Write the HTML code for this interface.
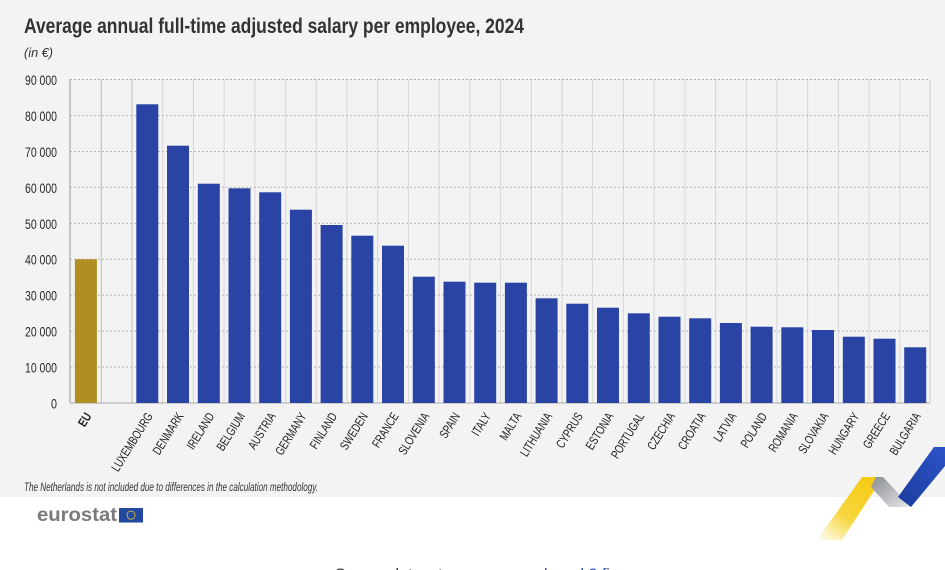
<!DOCTYPE html>
<html><head><meta charset="utf-8"><style>
html,body{margin:0;padding:0;background:#fff;}
svg{display:block;}
text{font-family:"Liberation Sans",sans-serif;}
</style></head><body>
<svg width="945" height="570" viewBox="0 0 945 570" xmlns="http://www.w3.org/2000/svg">
<defs>
<linearGradient id="gold" x1="0" y1="1" x2="0.7" y2="0">
<stop offset="0" stop-color="#f6d21a" stop-opacity="0"/>
<stop offset="0.45" stop-color="#f6cf1c" stop-opacity="0.85"/>
<stop offset="1" stop-color="#f7cc16"/>
</linearGradient>
<linearGradient id="grey" x1="0" y1="0" x2="1" y2="1">
<stop offset="0" stop-color="#8a8d93"/>
<stop offset="1" stop-color="#e6e7ea"/>
</linearGradient>
<linearGradient id="blue" x1="0" y1="1" x2="1" y2="0">
<stop offset="0" stop-color="#1b3a9c"/>
<stop offset="1" stop-color="#2c55c8"/>
</linearGradient>
</defs>
<rect x="0" y="0" width="945" height="497" fill="#f3f3f3"/>
<rect x="0" y="497" width="945" height="73" fill="#ffffff"/>

<text x="24" y="33" font-size="21" font-weight="bold" fill="#333" textLength="500" lengthAdjust="spacingAndGlyphs">Average annual full-time adjusted salary per employee, 2024</text>
<text x="24" y="57" font-size="12.5" font-style="italic" fill="#333" textLength="29" lengthAdjust="spacingAndGlyphs">(in €)</text>

<!-- vertical gridlines -->
<g stroke="#d6d6d6" stroke-width="1">
<line x1="101.3" y1="79.5" x2="101.3" y2="403" stroke="#bbb"/>
<line x1="132.0" y1="79.5" x2="132.0" y2="403" stroke="#bbb"/>
<line x1="162.7" y1="79.5" x2="162.7" y2="403"/>
<line x1="193.4" y1="79.5" x2="193.4" y2="403"/>
<line x1="224.1" y1="79.5" x2="224.1" y2="403"/>
<line x1="254.9" y1="79.5" x2="254.9" y2="403"/>
<line x1="285.6" y1="79.5" x2="285.6" y2="403"/>
<line x1="316.3" y1="79.5" x2="316.3" y2="403"/>
<line x1="347.0" y1="79.5" x2="347.0" y2="403"/>
<line x1="377.7" y1="79.5" x2="377.7" y2="403"/>
<line x1="408.4" y1="79.5" x2="408.4" y2="403"/>
<line x1="439.1" y1="79.5" x2="439.1" y2="403"/>
<line x1="469.9" y1="79.5" x2="469.9" y2="403"/>
<line x1="500.6" y1="79.5" x2="500.6" y2="403"/>
<line x1="531.3" y1="79.5" x2="531.3" y2="403"/>
<line x1="562.0" y1="79.5" x2="562.0" y2="403"/>
<line x1="592.7" y1="79.5" x2="592.7" y2="403"/>
<line x1="623.4" y1="79.5" x2="623.4" y2="403"/>
<line x1="654.1" y1="79.5" x2="654.1" y2="403"/>
<line x1="684.9" y1="79.5" x2="684.9" y2="403"/>
<line x1="715.6" y1="79.5" x2="715.6" y2="403"/>
<line x1="746.3" y1="79.5" x2="746.3" y2="403"/>
<line x1="777.0" y1="79.5" x2="777.0" y2="403"/>
<line x1="807.7" y1="79.5" x2="807.7" y2="403"/>
<line x1="838.4" y1="79.5" x2="838.4" y2="403"/>
<line x1="869.1" y1="79.5" x2="869.1" y2="403"/>
<line x1="899.9" y1="79.5" x2="899.9" y2="403"/>
<line x1="930" y1="79.5" x2="930" y2="403" stroke="#c8c8c8"/>
</g>
<!-- horizontal gridlines -->
<g stroke="#b0b0b0" stroke-width="0.9" stroke-dasharray="2,2">
<line x1="70" y1="79.5" x2="930" y2="79.5"/>
<line x1="70" y1="115.4" x2="930" y2="115.4"/>
<line x1="70" y1="151.4" x2="930" y2="151.4"/>
<line x1="70" y1="187.3" x2="930" y2="187.3"/>
<line x1="70" y1="223.3" x2="930" y2="223.3"/>
<line x1="70" y1="259.2" x2="930" y2="259.2"/>
<line x1="70" y1="295.2" x2="930" y2="295.2"/>
<line x1="70" y1="331.1" x2="930" y2="331.1"/>
<line x1="70" y1="367.1" x2="930" y2="367.1"/>
</g>
<line x1="70" y1="79.5" x2="70" y2="403" stroke="#9a9a9a" stroke-width="1"/>
<line x1="70" y1="403" x2="930" y2="403" stroke="#aaa" stroke-width="1"/>

<!-- y labels -->
<g font-size="13.5" fill="#2a2a2a" text-anchor="end">
<text x="57" y="85" textLength="32" lengthAdjust="spacingAndGlyphs">90 000</text>
<text x="57" y="120.9" textLength="32" lengthAdjust="spacingAndGlyphs">80 000</text>
<text x="57" y="156.9" textLength="32" lengthAdjust="spacingAndGlyphs">70 000</text>
<text x="57" y="192.8" textLength="32" lengthAdjust="spacingAndGlyphs">60 000</text>
<text x="57" y="228.8" textLength="32" lengthAdjust="spacingAndGlyphs">50 000</text>
<text x="57" y="264.7" textLength="32" lengthAdjust="spacingAndGlyphs">40 000</text>
<text x="57" y="300.7" textLength="32" lengthAdjust="spacingAndGlyphs">30 000</text>
<text x="57" y="336.6" textLength="32" lengthAdjust="spacingAndGlyphs">20 000</text>
<text x="57" y="372.6" textLength="32" lengthAdjust="spacingAndGlyphs">10 000</text>
<text x="57" y="408.5" textLength="6" lengthAdjust="spacingAndGlyphs">0</text>
</g>

<!-- bars -->
<rect x="74.9" y="259.2" width="22" height="143.8" fill="#b08e22"/>
<g fill="#2a44a6">
<rect x="136.3" y="104.3" width="22" height="298.7"/>
<rect x="167.0" y="145.7" width="22" height="257.3"/>
<rect x="197.8" y="183.7" width="22" height="219.3"/>
<rect x="228.5" y="188.3" width="22" height="214.7"/>
<rect x="259.2" y="192.3" width="22" height="210.7"/>
<rect x="289.9" y="209.7" width="22" height="193.3"/>
<rect x="320.6" y="225.0" width="22" height="178.0"/>
<rect x="351.3" y="235.7" width="22" height="167.3"/>
<rect x="382.0" y="245.7" width="22" height="157.3"/>
<rect x="412.8" y="276.7" width="22" height="126.3"/>
<rect x="443.5" y="281.7" width="22" height="121.3"/>
<rect x="474.2" y="282.7" width="22" height="120.3"/>
<rect x="504.9" y="282.7" width="22" height="120.3"/>
<rect x="535.6" y="298.3" width="22" height="104.7"/>
<rect x="566.3" y="303.7" width="22" height="99.3"/>
<rect x="597.0" y="307.7" width="22" height="95.3"/>
<rect x="627.8" y="313.3" width="22" height="89.7"/>
<rect x="658.5" y="316.7" width="22" height="86.3"/>
<rect x="689.2" y="318.3" width="22" height="84.7"/>
<rect x="719.9" y="323.0" width="22" height="80.0"/>
<rect x="750.6" y="326.7" width="22" height="76.3"/>
<rect x="781.3" y="327.3" width="22" height="75.7"/>
<rect x="812.0" y="330.0" width="22" height="73.0"/>
<rect x="842.8" y="336.7" width="22" height="66.3"/>
<rect x="873.5" y="338.7" width="22" height="64.3"/>
<rect x="904.2" y="347.3" width="22" height="55.7"/>
</g>

<!-- x labels -->
<g font-size="12.5" fill="#222" text-anchor="end">
<text transform="translate(92,416) rotate(-58) scale(0.8,1)" font-weight="bold">EU</text>
<text transform="translate(153.3,416) rotate(-58) scale(0.75,1)">LUXEMBOURG</text>
<text transform="translate(184.0,416) rotate(-58) scale(0.75,1)">DENMARK</text>
<text transform="translate(214.8,416) rotate(-58) scale(0.75,1)">IRELAND</text>
<text transform="translate(245.5,416) rotate(-58) scale(0.75,1)">BELGIUM</text>
<text transform="translate(276.2,416) rotate(-58) scale(0.75,1)">AUSTRIA</text>
<text transform="translate(306.9,416) rotate(-58) scale(0.75,1)">GERMANY</text>
<text transform="translate(337.6,416) rotate(-58) scale(0.75,1)">FINLAND</text>
<text transform="translate(368.3,416) rotate(-58) scale(0.75,1)">SWEDEN</text>
<text transform="translate(399.0,416) rotate(-58) scale(0.75,1)">FRANCE</text>
<text transform="translate(429.8,416) rotate(-58) scale(0.75,1)">SLOVENIA</text>
<text transform="translate(460.5,416) rotate(-58) scale(0.75,1)">SPAIN</text>
<text transform="translate(491.2,416) rotate(-58) scale(0.75,1)">ITALY</text>
<text transform="translate(521.9,416) rotate(-58) scale(0.75,1)">MALTA</text>
<text transform="translate(552.6,416) rotate(-58) scale(0.75,1)">LITHUANIA</text>
<text transform="translate(583.3,416) rotate(-58) scale(0.75,1)">CYPRUS</text>
<text transform="translate(614.0,416) rotate(-58) scale(0.75,1)">ESTONIA</text>
<text transform="translate(644.8,416) rotate(-58) scale(0.75,1)">PORTUGAL</text>
<text transform="translate(675.5,416) rotate(-58) scale(0.75,1)">CZECHIA</text>
<text transform="translate(706.2,416) rotate(-58) scale(0.75,1)">CROATIA</text>
<text transform="translate(736.9,416) rotate(-58) scale(0.75,1)">LATVIA</text>
<text transform="translate(767.6,416) rotate(-58) scale(0.75,1)">POLAND</text>
<text transform="translate(798.3,416) rotate(-58) scale(0.75,1)">ROMANIA</text>
<text transform="translate(829.0,416) rotate(-58) scale(0.75,1)">SLOVAKIA</text>
<text transform="translate(859.8,416) rotate(-58) scale(0.75,1)">HUNGARY</text>
<text transform="translate(890.5,416) rotate(-58) scale(0.75,1)">GREECE</text>
<text transform="translate(921.2,416) rotate(-58) scale(0.75,1)">BULGARIA</text>
</g>

<text x="24" y="491" font-size="11.5" font-style="italic" fill="#333" textLength="294" lengthAdjust="spacingAndGlyphs">The Netherlands is not included due to differences in the calculation methodology.</text>

<!-- eurostat logo -->
<text x="37" y="521" font-size="19" font-weight="bold" fill="#7a7a7a" textLength="80" lengthAdjust="spacingAndGlyphs">eurostat</text>
<rect x="119" y="508" width="24" height="14.5" fill="#2348a0"/>
<g fill="#f4d32a">
<circle cx="131" cy="511.2" r="0.7"/><circle cx="133" cy="511.7" r="0.7"/><circle cx="134.4" cy="513.2" r="0.7"/><circle cx="134.9" cy="515.2" r="0.7"/><circle cx="134.4" cy="517.2" r="0.7"/><circle cx="133" cy="518.7" r="0.7"/><circle cx="131" cy="519.2" r="0.7"/><circle cx="129" cy="518.7" r="0.7"/><circle cx="127.6" cy="517.2" r="0.7"/><circle cx="127.1" cy="515.2" r="0.7"/><circle cx="127.6" cy="513.2" r="0.7"/><circle cx="129" cy="511.7" r="0.7"/>
</g>

<!-- ribbon -->
<polygon points="862,477 883,477 842,540 817,540" fill="url(#gold)"/>
<polygon points="876,477 883,477 911,507 889,507 871,487" fill="url(#grey)"/>
<polygon points="898,497 934,447 945,447 945,466 911,507" fill="url(#blue)"/>

<!-- cut-off bottom text -->
<text x="335" y="579.5" font-size="16" fill="#333">Source dataset: <tspan fill="#2a44a6">earn_ses_pub and 2 fi</tspan></text>
</svg>
</body></html>
